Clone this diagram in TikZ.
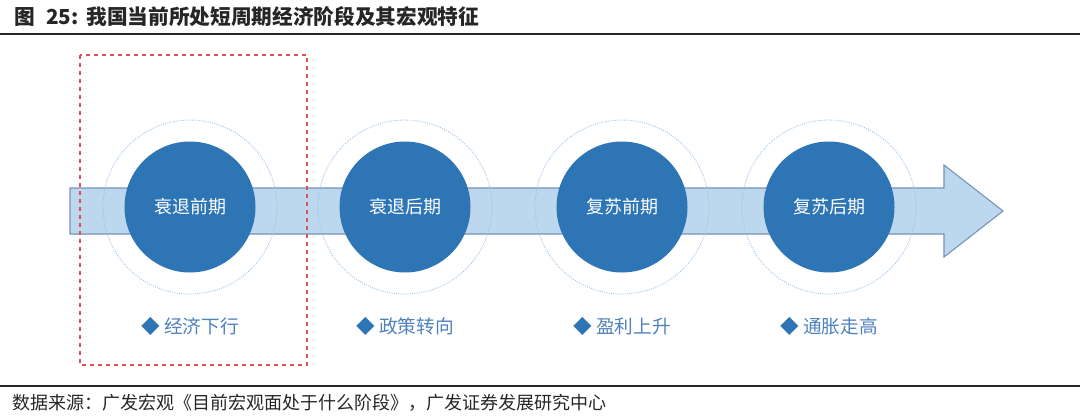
\documentclass[tikz,border=0pt]{standalone}
\usepackage{fontspec}
\setmainfont{Noto Sans CJK SC}
\usetikzlibrary{positioning}
\definecolor{stageblue}{HTML}{2E75B6}
\definecolor{bandfill}{HTML}{BDD7EE}
\definecolor{bandline}{HTML}{7393B8}
\definecolor{ringblue}{HTML}{9DC3E6}
\definecolor{markred}{HTML}{D9534F}
\definecolor{tagblue}{HTML}{4F81BD}
\definecolor{inkgray}{HTML}{262626}

\begin{document}
\begin{tikzpicture}[
  x=0.75pt, y=-0.75pt,
  stage/.style = {circle, fill=stageblue, minimum size=98.25pt, inner sep=0pt,
                  text=white, font=\fontsize{13.5}{16}\selectfont},
  ring/.style  = {circle, draw=ringblue, densely dotted, line width=0.7pt,
                  minimum size=130.5pt, inner sep=0pt},
  tag/.style   = {text=tagblue, font=\fontsize{14}{16}\selectfont},
]
  \useasboundingbox (0,0) rectangle (1080,418);

  % heading and rules
  \node[anchor=west, text=inkgray, font=\fontsize{15.5}{18}\selectfont\bfseries]
    (title) at (10,17) {图\hspace{8pt}25:\hspace{6pt}我国当前所处短周期经济阶段及其宏观特征};
  \draw[line width=1.5pt, inkgray] (0,34) -- (1080,34);
  \draw[line width=1.5pt, inkgray] (0,386) -- (1080,386);

  % the band arrow
  \draw[fill=bandfill, draw=bandline, line width=0.8pt]
    (70,188) -- (944,188) -- (944,165) -- (1003,211) -- (944,257) -- (944,234) -- (70,234) -- cycle;

  % stages
  \node[ring]  (r1) at (190,207) {};
  \node[ring]  (r2) at (405,207) {};
  \node[ring]  (r3) at (622,207) {};
  \node[ring]  (r4) at (829,207) {};
  \node[stage] (s1) at (r1) {衰退前期};
  \node[stage] (s2) at (r2) {衰退后期};
  \node[stage] (s3) at (r3) {复苏前期};
  \node[stage] (s4) at (r4) {复苏后期};

  % features below each stage
  \node[tag, below=30pt of s1] (t1) {{\color{stageblue}◆}\ 经济下行};
  \node[tag, below=30pt of s2] (t2) {{\color{stageblue}◆}\ 政策转向};
  \node[tag, below=30pt of s3] (t3) {{\color{stageblue}◆}\ 盈利上升};
  \node[tag, below=30pt of s4] (t4) {{\color{stageblue}◆}\ 通胀走高};

  % current phase
  \draw[markred, dashed, line width=0.8pt] (80,55) rectangle (307,365);

  % source
  \node[anchor=west, text=inkgray, font=\fontsize{13.5}{16}\selectfont]
    (src) at (8,403) {数据来源：广发宏观《目前宏观面处于什么阶段》，广发证券发展研究中心};
\end{tikzpicture}
\end{document}
